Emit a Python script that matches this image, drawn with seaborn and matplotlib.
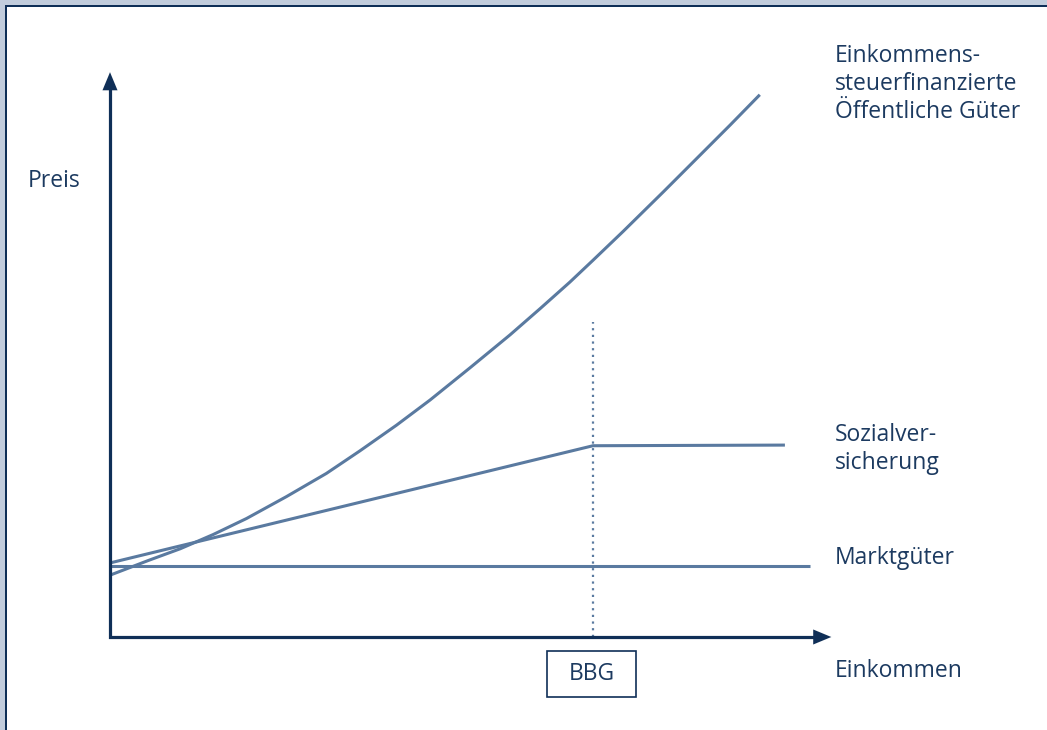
import matplotlib
matplotlib.use("Agg")
import matplotlib.pyplot as plt
import seaborn as sns
import pandas as pd
from matplotlib.patches import Rectangle

# ---- data (abstract units: income on x, price on y) ----
income_curve = [0, 0.6, 1.09, 1.6, 2.12, 2.74, 3.36, 3.88, 4.45, 4.97, 5.59, 6.21, 6.68,
                7.14, 7.50, 7.97, 8.59, 9.11, 9.63, 10.09]
price_curve = [0.96, 1.19, 1.37, 1.59, 1.84, 2.18, 2.54, 2.89, 3.29, 3.68, 4.18, 4.69, 5.10,
               5.51, 5.85, 6.30, 6.91, 7.43, 7.95, 8.42]

income_soz = [0, 7.5, 10.48]
price_soz = [1.15, 2.97, 2.98]

income_markt = [0, 10.87]
price_markt = [1.10, 1.10]

bbg_income = 7.5
bbg_top = 4.89
x_axis_end = 11.2
y_axis_end = 8.77

label_curve = "Einkommens-\nsteuerfinanzierte\nÖffentliche Güter"
label_soz = "Sozialver-\nsicherung"
label_markt = "Marktgüter"
label_x = "Einkommen"
label_y = "Preis"
label_bbg = "BBG"

LINE = "#5a7aa0"
NAVY = "#0f2f57"
TEXT = "#1c3a60"
BAND = "#c2cddd"

sns.set_theme(style="white")
plt.rcParams["font.family"] = ["Open Sans", "DejaVu Sans"]

fig = plt.figure(figsize=(10.47, 7.3), dpi=100)
fig.patch.set_facecolor("white")
ax = fig.add_axes([0, 0, 1, 1])
ax.set_xlim(-110 / 64.4, (1047 - 110) / 64.4)
ax.set_ylim(-(730 - 637) / 64.4, 637 / 64.4)
ax.axis("off")

# border bands (top and left)
fig.patches.append(Rectangle((0, 1 - 5 / 730), 1, 5 / 730, transform=fig.transFigure,
                             facecolor=BAND, edgecolor="none", zorder=0))
fig.patches.append(Rectangle((0, 0), 5 / 1047, 1, transform=fig.transFigure,
                             facecolor=BAND, edgecolor="none", zorder=0))
fig.patches.append(Rectangle((5 / 1047, 0), 2 / 1047, 1 - 5 / 730, transform=fig.transFigure,
                             facecolor=NAVY, edgecolor="none", zorder=0))
fig.patches.append(Rectangle((5 / 1047, 1 - 7 / 730), 1 - 5 / 1047, 2 / 730, transform=fig.transFigure,
                             facecolor=NAVY, edgecolor="none", zorder=0))

df_curve = pd.DataFrame({"x": income_curve, "y": price_curve})
df_soz = pd.DataFrame({"x": income_soz, "y": price_soz})
df_markt = pd.DataFrame({"x": income_markt, "y": price_markt})

style = dict(color=LINE, lw=2.2, estimator=None, sort=False,
             solid_joinstyle="round", solid_capstyle="butt")
sns.lineplot(data=df_markt, x="x", y="y", ax=ax, **style)
sns.lineplot(data=df_soz, x="x", y="y", ax=ax, **style)
sns.lineplot(data=df_curve, x="x", y="y", ax=ax, **style)

# BBG dotted line
ax.plot([bbg_income, bbg_income], [0, bbg_top], color=LINE, lw=1.6, ls=(0, (1, 2)))

# axes with arrows
ax.plot([0, 0, x_axis_end - 0.22], [y_axis_end - 0.22, 0, 0], color=NAVY, lw=2.3,
        solid_joinstyle="miter", solid_capstyle="butt", zorder=5)
arrow = dict(arrowstyle="-|>,head_length=0.65,head_width=0.27", mutation_scale=20,
             color=NAVY, lw=0.01, shrinkA=0, shrinkB=0)
ax.annotate("", xy=(0, y_axis_end), xytext=(0, y_axis_end - 0.5), arrowprops=arrow, zorder=6)
ax.annotate("", xy=(x_axis_end, 0), xytext=(x_axis_end - 0.5, 0), arrowprops=arrow, zorder=6)

fs = 16.5
lx = (835 - 110) / 64.4
ax.text(lx, (637 - 84) / 64.4, label_curve, ha="left", va="center", fontsize=fs, color=TEXT, linespacing=1.2)
ax.text(lx, (637 - 449) / 64.4, label_soz, ha="left", va="center", fontsize=fs, color=TEXT, linespacing=1.2)
ax.text(lx, (637 - 558) / 64.4, label_markt, ha="left", va="center", fontsize=fs, color=TEXT)
ax.text(lx, (637 - 671) / 64.4, label_x, ha="left", va="center", fontsize=fs, color=TEXT)
ax.text((28 - 110) / 64.4, (637 - 181) / 64.4, label_y, ha="left", va="center", fontsize=fs, color=TEXT)

# BBG box
bx0, bx1 = (547 - 110) / 64.4, (636 - 110) / 64.4
by0, by1 = -(697 - 637) / 64.4, -(651 - 637) / 64.4
ax.add_patch(Rectangle((bx0, by0), bx1 - bx0, by1 - by0, facecolor="white",
                       edgecolor=NAVY, lw=1.2))
ax.text((bx0 + bx1) / 2, (by0 + by1) / 2, label_bbg, ha="center", va="center",
        fontsize=fs, color=TEXT)

fig.savefig("out.png", dpi=100)
